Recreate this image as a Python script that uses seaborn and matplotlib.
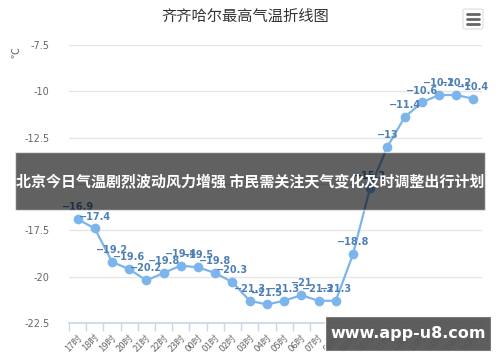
import pandas as pd
import matplotlib
matplotlib.use('Agg')
import matplotlib.pyplot as plt
from matplotlib.patches import Rectangle, FancyBboxPatch
import seaborn as sns

sns.set_theme(style='white')
plt.rcParams['font.family'] = ['Noto Sans CJK SC', 'DejaVu Sans']
plt.rcParams['axes.unicode_minus'] = False

title = '齐齐哈尔最高气温折线图'
hours = ['17时', '18时', '19时', '20时', '21时', '22时', '23时', '00时',
         '01时', '02时', '03时', '04时', '05时', '06时', '07时', '08时',
         '09时', '10时', '11时', '12时', '13时', '14时', '15时', '16时']
temps = [-16.9, -17.4, -19.2, -19.6, -20.2, -19.8, -19.4, -19.5,
         -19.8, -20.3, -21.3, -21.5, -21.3, -21.0, -21.3, -21.3,
         -18.8, -15.2, -13.0, -11.4, -10.6, -10.2, -10.2, -10.4]
ygrid = [-22.5, -20, -17.5, -15, -12.5, -10, -7.5]
ylabels = ['-22.5', '-20', '-17.5', '', '-12.5', '-10', '-7.5']
banner = '北京今日气温剧烈波动风力增强 市民需关注天气变化及时调整出行计划'
watermark = 'www.app-u8.com'

df = pd.DataFrame({'hour': hours, 'temp': temps})

fig = plt.figure(figsize=(5, 3.62), dpi=100)
ax = fig.add_axes([0.138, 0.1077, 0.826, 0.768])

sns.lineplot(data=df, x='hour', y='temp', sort=False, ax=ax,
             color='#7cb5ec', linewidth=1.6, marker='o', markersize=7,
             markeredgewidth=0, zorder=3)

for i, v in enumerate(temps):
    label = f'{v:g}'.replace('-', '−')
    ax.annotate(label, (i, v), xytext=(0, 5), textcoords='offset points',
                ha='center', va='bottom', fontsize=7, fontweight='bold',
                color='#4f80b5', family='DejaVu Sans', zorder=4)

ax.set_xlim(-0.5, len(hours) - 0.5)
ax.set_ylim(-22.5, -7.5)
ax.set_yticks(ygrid)
ax.set_yticklabels(ylabels, color='#666666', fontsize=7, family='DejaVu Sans')
ax.yaxis.grid(True, color='#e6e6e6', linewidth=1)
ax.tick_params(axis='y', length=0, pad=14)

ax.set_xticks(range(len(hours)))
ax.set_xticklabels(hours, rotation=45, ha='right', rotation_mode='anchor',
                   color='#666666', fontsize=6.8)
ax.set_xticks([i - 0.5 for i in range(len(hours) + 1)], minor=True)
ax.tick_params(axis='x', which='major', length=0, pad=7)
ax.tick_params(axis='x', which='minor', length=6, color='#ccd6eb', width=1,
               bottom=True)
ax.set_xlabel('')
ax.set_ylabel('')
for s in ['top', 'right', 'left']:
    ax.spines[s].set_visible(False)
ax.spines['bottom'].set_color('#ccd6eb')

fig.text(0.49, 0.955, title, ha='center', va='center', fontsize=11,
         color='#333333')
fig.text(0.032, 0.855, '℃', ha='center', va='center', rotation=90,
         fontsize=8, color='#666666')

# menu button
fig.patches.append(FancyBboxPatch((0.926, 0.92), 0.04, 0.055,
                                  boxstyle='round,pad=0,rounding_size=0.004',
                                  transform=fig.transFigure, facecolor='white',
                                  edgecolor='#dddddd', linewidth=0.8))
for yy in [0.9345, 0.9475, 0.9605]:
    fig.lines.append(plt.Line2D([0.934, 0.958], [yy, yy], transform=fig.transFigure,
                                color='#666666', linewidth=2))

# overlay banner
fig.patches.append(Rectangle((0.03, 0.42), 0.94, 0.16, transform=fig.transFigure,
                             facecolor='black', alpha=0.62, zorder=10))
fig.text(0.5, 0.5, banner, ha='center', va='center', fontsize=10.8,
         fontweight='bold', color='white', zorder=11)

# watermark
fig.patches.append(Rectangle((0.65, 0.03), 0.332, 0.097, transform=fig.transFigure,
                             facecolor='#555555', alpha=0.95, zorder=10))
fig.text(0.816, 0.078, watermark, ha='center', va='center', fontsize=11.5,
         fontweight='bold', color='white', family='DejaVu Sans', zorder=11)

fig.savefig('out.png', dpi=100)
